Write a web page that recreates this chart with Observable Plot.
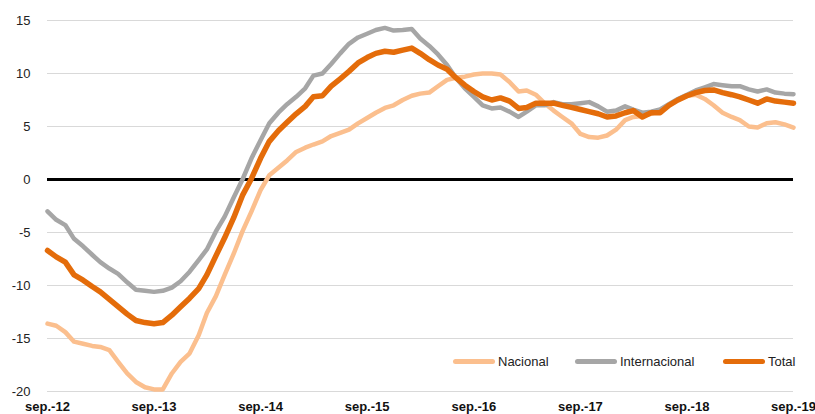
<!DOCTYPE html>
<html>
<head>
<meta charset="utf-8">
<script src="https://cdn.jsdelivr.net/npm/d3@7"></script>
<script src="https://cdn.jsdelivr.net/npm/@observablehq/plot@0.6"></script>
<style>
  html, body { margin: 0; padding: 0; background: #fff; }
  #wrap { position: relative; width: 815px; height: 414px; overflow: hidden; font-family: "Liberation Sans", Arial, Helvetica, sans-serif; }
  .lg { position: absolute; top: 352px; height: 18px; display: flex; align-items: center; font-size: 13px; color: #222; white-space: nowrap; }
  .sw { width: 42px; height: 5px; border-radius: 3px; margin-right: 3px; }
</style>
</head>
<body>
<div id="wrap"></div>
<script>
const seriesNames = ["Nacional", "Internacional", "Total"];
const seriesColors = ["#fbbf8e", "#a6a6a6", "#e46c0a"];
const seriesWidths = [4.5, 4.5, 5.5];

const xTickLabels = ["sep.-12", "sep.-13", "sep.-14", "sep.-15", "sep.-16", "sep.-17", "sep.-18", "sep.-19"];
const yTicks = [-20, -15, -10, -5, 0, 5, 10, 15];

// monthly, sep-2012 .. sep-2019
const nacional = [-13.6,-13.8,-14.4,-15.3,-15.5,-15.7,-15.8,-16.1,-17.2,-18.3,
  -19.1,-19.6,-19.8,-19.8,-18.3,-17.2,-16.4,-14.7,-12.6,-11.0,
  -9.0,-7.0,-4.9,-3.0,-1.0,0.4,1.1,1.8,2.6,3.0,
  3.3,3.6,4.1,4.4,4.7,5.3,5.8,6.3,6.75,7.0,
  7.5,7.9,8.1,8.2,8.8,9.4,9.6,9.7,9.9,10.0,
  10.0,9.9,9.2,8.3,8.4,8.0,7.2,6.5,5.9,5.3,
  4.3,4.0,3.95,4.15,4.7,5.6,5.9,6.0,6.2,6.5,
  7.0,7.5,7.9,8.0,7.6,7.0,6.3,5.9,5.6,5.0,
  4.9,5.3,5.4,5.2,4.9];
const internacional = [-3.0,-3.8,-4.3,-5.6,-6.3,-7.1,-7.8,-8.4,-8.9,-9.7,
  -10.4,-10.5,-10.6,-10.5,-10.2,-9.6,-8.7,-7.6,-6.6,-4.9,
  -3.5,-1.7,0.0,2.0,3.7,5.3,6.3,7.1,7.8,8.6,
  9.8,10.0,10.9,11.9,12.8,13.4,13.75,14.1,14.3,14.05,
  14.1,14.2,13.3,12.6,11.8,10.8,9.6,8.6,7.8,7.0,
  6.7,6.8,6.4,5.9,6.4,7.0,7.0,7.3,7.1,7.1,
  7.2,7.3,6.9,6.4,6.5,6.9,6.6,6.3,6.4,6.6,
  7.1,7.6,8.0,8.4,8.7,9.0,8.9,8.8,8.8,8.5,
  8.3,8.5,8.2,8.1,8.05];
const total = [-6.7,-7.3,-7.8,-9.0,-9.5,-10.1,-10.6,-11.3,-12.0,-12.7,
  -13.3,-13.5,-13.6,-13.5,-12.8,-12.0,-11.2,-10.3,-9.0,-7.2,
  -5.5,-3.6,-1.5,0.1,2.0,3.6,4.6,5.4,6.2,6.9,
  7.8,7.9,8.8,9.5,10.2,11.0,11.5,11.9,12.1,12.0,
  12.2,12.4,11.9,11.3,10.8,10.4,9.6,8.9,8.3,7.8,
  7.5,7.7,7.4,6.7,6.8,7.2,7.2,7.2,7.0,6.8,
  6.6,6.4,6.2,5.9,6.0,6.3,6.5,5.9,6.3,6.3,
  7.0,7.5,7.9,8.2,8.4,8.45,8.2,8.0,7.8,7.5,
  7.2,7.6,7.4,7.3,7.2];

const months = d3.utcMonth.range(new Date(Date.UTC(2012, 8, 1)), new Date(Date.UTC(2019, 9, 1)));
const xTickDates = xTickLabels.map((_, i) => months[i * 12]);
const seriesValues = [nacional, internacional, total];

const rows = [];
seriesNames.forEach((name, s) => {
  seriesValues[s].forEach((v, i) => rows.push({ series: name, date: months[i], value: v }));
});

const chart = Plot.plot({
  width: 815,
  height: 414,
  marginLeft: 47,
  marginRight: 22,
  marginTop: 20,
  marginBottom: 23,
  style: { fontFamily: "'Liberation Sans', Arial, Helvetica, sans-serif", fontSize: "13px", background: "white", overflow: "visible" },
  x: { type: "utc", domain: [months[0], months[months.length - 1]] },
  y: { domain: [-20, 15] },
  marks: [
    Plot.gridY(yTicks, { stroke: "#d9d9d9", strokeOpacity: 1, strokeWidth: 1 }),
    Plot.axisY(yTicks, { tickSize: 0, tickPadding: 17, fontSize: 13, fill: "#222", label: null, tickFormat: d => String(d) }),
    Plot.axisX(xTickDates, {
      tickSize: 0, tickPadding: 10, fontSize: 13, fontWeight: "bold", fill: "#111", label: null,
      tickFormat: d => xTickLabels[xTickDates.findIndex(t => +t === +d)]
    }),
    Plot.ruleY([0], { stroke: "black", strokeWidth: 3 }),
    ...seriesNames.map((name, s) => Plot.lineY(rows.filter(r => r.series === name), {
      x: "date", y: "value", stroke: seriesColors[s], strokeWidth: seriesWidths[s],
      strokeLinejoin: "round", strokeLinecap: "round"
    }))
  ]
});

const wrap = document.getElementById("wrap");
wrap.appendChild(chart);

const legendLeft = [453, 575, 723];
seriesNames.forEach((name, s) => {
  const item = document.createElement("div");
  item.className = "lg";
  item.style.left = legendLeft[s] + "px";
  const sw = document.createElement("div");
  sw.className = "sw";
  sw.style.background = seriesColors[s];
  const tx = document.createElement("span");
  tx.textContent = name;
  item.appendChild(sw);
  item.appendChild(tx);
  wrap.appendChild(item);
});
</script>
</body>
</html>
